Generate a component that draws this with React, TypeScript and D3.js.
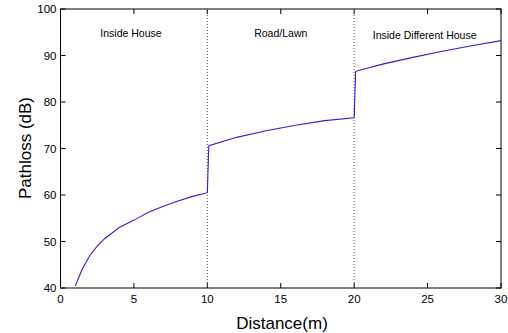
import React, { useRef, useEffect } from 'react';
import * as d3 from 'd3';

// distances (m) and pathloss (dB)
const distance = [1, 1.5, 2, 2.5, 3, 4, 5, 6, 7, 8, 9, 10, 10.1, 12, 14, 16, 18, 20, 20.1, 22, 24, 26, 28, 30];
const pathloss = [40.4, 44.2, 47.0, 49.0, 50.6, 53.0, 54.6, 56.3, 57.6, 58.7, 59.7, 60.5, 70.6, 72.4, 73.8, 75.0, 76.0, 76.6, 86.6, 88.2, 89.6, 90.9, 92.1, 93.2];

const xTicks = [0, 5, 10, 15, 20, 25, 30];
const yTicks = [40, 50, 60, 70, 80, 90, 100];
const boundaries = [10, 20];
const regions = [
    { label: 'Inside House', at: 4.8, y: 94 },
    { label: 'Road/Lawn', at: 15, y: 94 },
    { label: 'Inside Different House', at: 24.8, y: 93.6 },
];

const App = () => {
    const svgRef = useRef<SVGSVGElement>(null);

    useEffect(() => {
        const svg = d3.select(svgRef.current);
        svg.selectAll('*').remove();

        const left = 60.5, right = 501, top = 9, bottom = 288;
        const x = d3.scaleLinear().domain([0, 30]).range([left, right]);
        const y = d3.scaleLinear().domain([40, 100]).range([bottom, top]);
        const font = "'Liberation Sans', Arial, sans-serif";

        svg.append('rect')
            .attr('x', left).attr('y', top)
            .attr('width', right - left).attr('height', bottom - top)
            .attr('fill', 'white').attr('stroke', 'black').attr('stroke-width', 1);

        // ticks on all four sides, pointing in
        const tickLen = 5;
        svg.selectAll('.xt').data(xTicks).enter().append('line')
            .attr('x1', d => x(d)).attr('x2', d => x(d))
            .attr('y1', bottom).attr('y2', bottom - tickLen)
            .attr('stroke', 'black');
        svg.selectAll('.xtt').data(xTicks).enter().append('line')
            .attr('x1', d => x(d)).attr('x2', d => x(d))
            .attr('y1', top).attr('y2', top + tickLen)
            .attr('stroke', 'black');
        svg.selectAll('.yt').data(yTicks).enter().append('line')
            .attr('x1', left).attr('x2', left + tickLen)
            .attr('y1', d => y(d)).attr('y2', d => y(d))
            .attr('stroke', 'black');
        svg.selectAll('.ytr').data(yTicks).enter().append('line')
            .attr('x1', right).attr('x2', right - tickLen)
            .attr('y1', d => y(d)).attr('y2', d => y(d))
            .attr('stroke', 'black');

        svg.selectAll('.xl').data(xTicks).enter().append('text')
            .attr('x', d => x(d)).attr('y', 303)
            .attr('text-anchor', 'middle')
            .style('font-family', font).style('font-size', '11.5px')
            .text(d => d);
        svg.selectAll('.yl').data(yTicks).enter().append('text')
            .attr('x', left - 4).attr('y', d => y(d) + 4)
            .attr('text-anchor', 'end')
            .style('font-family', font).style('font-size', '11.5px')
            .text(d => d);

        // region boundaries
        svg.selectAll('.bd').data(boundaries).enter().append('line')
            .attr('x1', d => x(d)).attr('x2', d => x(d))
            .attr('y1', top).attr('y2', bottom)
            .attr('stroke', '#555').attr('stroke-width', 1)
            .attr('stroke-dasharray', '1,2');

        svg.selectAll('.rg').data(regions).enter().append('text')
            .attr('x', d => x(d.at)).attr('y', d => y(d.y))
            .attr('text-anchor', 'middle')
            .style('font-family', font).style('font-size', '10.5px')
            .text(d => d.label);

        const line = d3.line<number>()
            .x((d, i) => x(distance[i]))
            .y(d => y(d));
        svg.append('path')
            .datum(pathloss)
            .attr('d', line)
            .attr('fill', 'none')
            .attr('stroke', '#2a22cc')
            .attr('stroke-width', 1.1);

        svg.append('text')
            .attr('x', 282).attr('y', 329)
            .attr('text-anchor', 'middle')
            .style('font-family', font).style('font-size', '17px')
            .text('Distance(m)');
        svg.append('text')
            .attr('transform', 'translate(31,148) rotate(-90)')
            .attr('text-anchor', 'middle')
            .style('font-family', font).style('font-size', '17px')
            .text('Pathloss (dB)');
    }, []);

    return (
        <svg ref={svgRef} width={508} height={333}
            style={{ position: 'absolute', left: 0, top: 0, background: 'white' }} />
    );
};

export default App;
